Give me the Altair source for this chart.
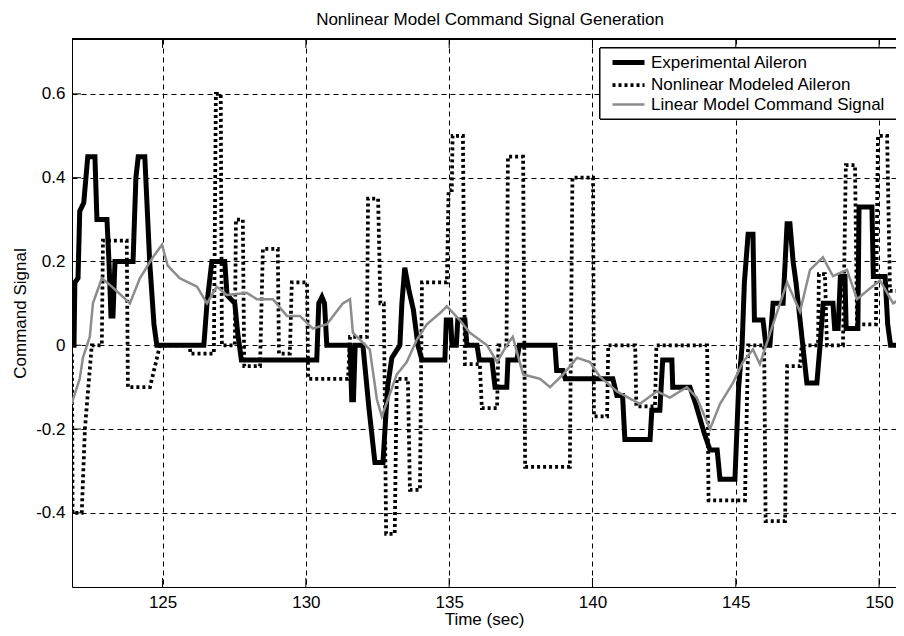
import altair as alt
import pandas as pd

# ---- data ----
exp_t = [121.84, 121.91, 121.94, 122.05, 122.11, 122.25, 122.39, 122.64, 122.71, 123.06, 123.13, 123.20,
         123.27, 123.34, 123.97, 124.07, 124.15, 124.38, 124.55, 124.70, 124.80, 126.44, 126.55, 126.72,
         127.17, 127.25, 127.52, 127.62, 127.75, 130.38, 130.45, 130.56, 130.65, 130.73, 131.54, 131.60,
         131.66, 131.72, 131.99, 132.20, 132.41, 132.69, 132.85, 133.00, 133.28, 133.35, 133.45, 133.60,
         133.75, 133.91, 134.05, 134.85, 134.90, 135.05, 135.10, 135.25, 135.30, 135.55, 135.62, 135.97,
         136.05, 136.49, 136.60, 137.01, 137.05, 137.36, 137.45, 138.69, 138.75, 138.97, 139.05, 140.71,
         140.85, 141.05, 141.13, 142.01, 142.07, 142.35, 142.45, 142.77, 142.80, 143.40, 143.60, 143.90,
         144.10, 144.35, 144.45, 144.97, 145.10, 145.22, 145.30, 145.43, 145.60, 145.65, 145.95, 146.05,
         146.19, 146.30, 146.65, 146.79, 146.89, 147.00, 147.10, 147.48, 147.83, 147.94, 148.05, 148.39,
         148.45, 148.57, 148.65, 148.81, 148.85, 149.26, 149.30, 149.75, 149.80, 150.21, 150.30, 150.40,
         150.87]
exp_v = [0.0, 0.0, 0.15, 0.16, 0.32, 0.34, 0.45, 0.45, 0.30, 0.30, 0.20, 0.07,
         0.07, 0.20, 0.20, 0.40, 0.45, 0.45, 0.20, 0.05, 0.0, 0.0, 0.10, 0.20,
         0.20, 0.12, 0.10, 0.03, -0.035, -0.035, 0.10, 0.115, 0.10, 0.0, 0.0, -0.13,
         -0.13, 0.0, 0.0, -0.15, -0.28, -0.28, -0.10, -0.03, 0.0, 0.10, 0.185, 0.13,
         0.085, 0.0, -0.035, -0.035, 0.06, 0.06, 0.0, 0.0, 0.06, 0.06, 0.0, 0.0,
         -0.035, -0.035, -0.10, -0.10, -0.035, -0.035, 0.0, 0.0, -0.06, -0.06, -0.08, -0.08,
         -0.12, -0.12, -0.225, -0.225, -0.155, -0.155, -0.035, -0.035, -0.10, -0.10, -0.14, -0.21,
         -0.25, -0.25, -0.32, -0.32, -0.10, 0.0, 0.15, 0.265, 0.265, 0.06, 0.06, 0.0,
         0.0, 0.10, 0.10, 0.29, 0.29, 0.20, 0.15, -0.09, -0.09, 0.0, 0.10, 0.10,
         0.04, 0.04, 0.164, 0.164, 0.04, 0.04, 0.33, 0.33, 0.164, 0.164, 0.05, 0.0,
         0.0]

nl_t = [121.84, 121.86, 122.18, 122.29, 122.53, 122.88, 122.92, 123.75, 123.79, 124.56, 124.91, 125.95,
        125.97, 126.79, 126.86, 127.03, 127.07, 127.52, 127.56, 127.80, 127.85, 128.40, 128.50, 129.02,
        129.06, 129.44, 129.51, 130.04, 130.08, 131.47, 131.54, 132.13, 132.17, 132.52, 132.60, 132.72,
        132.80, 133.10, 133.17, 133.56, 133.63, 133.98, 134.05, 134.92, 134.98, 135.09, 135.12, 135.48,
        135.55, 136.07, 136.14, 136.67, 136.72, 137.00, 137.05, 137.58, 137.65, 139.21, 139.30, 140.02,
        140.05, 140.51, 140.55, 141.49, 141.53, 142.18, 142.23, 144.00, 144.05, 145.32, 145.43, 145.99,
        146.04, 146.72, 146.79, 147.24, 147.30, 147.87, 147.90, 148.11, 148.18, 148.74, 148.84, 149.16,
        149.23, 149.89, 149.96, 150.28, 150.38, 150.87]
nl_v = [-0.02, -0.40, -0.40, -0.20, 0.0, 0.0, 0.25, 0.25, -0.10, -0.10, 0.0, 0.0,
        -0.02, -0.02, 0.60, 0.60, 0.0, 0.0, 0.30, 0.30, -0.05, -0.05, 0.23, 0.23,
        -0.02, -0.02, 0.15, 0.15, -0.08, -0.08, 0.02, 0.02, 0.35, 0.35, 0.10, 0.10,
        -0.45, -0.45, -0.08, -0.08, -0.345, -0.345, 0.15, 0.15, 0.37, 0.37, 0.50, 0.50,
        -0.045, -0.045, -0.15, -0.15, 0.0, 0.0, 0.45, 0.45, -0.29, -0.29, 0.40, 0.40,
        -0.17, -0.17, 0.0, 0.0, -0.146, -0.146, 0.0, 0.0, -0.37, -0.37, 0.0, 0.0,
        -0.42, -0.42, -0.05, -0.05, 0.0, 0.0, 0.17, 0.17, 0.0, 0.0, 0.43, 0.43,
        0.05, 0.05, 0.50, 0.50, 0.13, 0.13]

lin_t = [121.84, 121.87, 122.11, 122.22, 122.46, 122.57, 122.88, 123.23, 123.86, 124.21, 124.66, 124.98,
         125.18, 125.60, 126.20, 126.55, 126.89, 127.24, 127.94, 128.29, 128.85, 129.34, 129.79, 130.24,
         130.73, 131.29, 131.54, 131.64, 132.23, 132.48, 132.65, 132.86, 133.17, 133.52, 133.87, 134.22,
         134.68, 134.92, 135.37, 135.72, 136.32, 136.67, 137.01, 137.22, 137.58, 138.17, 138.52, 138.97,
         139.46, 139.91, 140.26, 140.85, 141.65, 142.25, 142.70, 143.29, 143.64, 144.10, 144.45, 144.90,
         145.25, 145.60, 145.84, 146.30, 146.79, 147.24, 147.59, 148.04, 148.39, 148.88, 149.23, 149.58,
         150.03, 150.49, 150.84]
lin_v = [-0.14, -0.13, -0.08, -0.03, 0.02, 0.10, 0.16, 0.14, 0.10, 0.16, 0.21, 0.24,
         0.19, 0.16, 0.14, 0.10, 0.14, 0.12, 0.125, 0.11, 0.11, 0.07, 0.07, 0.04,
         0.05, 0.10, 0.11, 0.03, -0.01, -0.13, -0.17, -0.13, -0.07, -0.04, 0.013, 0.05,
         0.077, 0.093, 0.06, 0.03, 0.0, -0.04, 0.0, 0.02, -0.07, -0.08, -0.10, -0.07,
         -0.03, -0.04, -0.075, -0.11, -0.14, -0.11, -0.125, -0.10, -0.125, -0.20, -0.14, -0.09,
         -0.04, -0.01, -0.045, 0.05, 0.15, 0.08, 0.18, 0.21, 0.165, 0.18, 0.11, 0.13,
         0.155, 0.10, 0.115]

series_names = ["Experimental Aileron", "Nonlinear Modeled Aileron", "Linear Model Command Signal"]
x_ticks = [125, 130, 135, 140, 145, 150]
y_ticks = [-0.4, -0.2, 0, 0.2, 0.4, 0.6]

rows = []
for name, ts, vs in zip(series_names, [exp_t, nl_t, lin_t], [exp_v, nl_v, lin_v]):
    for i, (t, v) in enumerate(zip(ts, vs)):
        rows.append({"series": name, "t": t, "v": v, "order": i})
df = pd.DataFrame(rows)

W, H = 824, 548
FONT = "Liberation Sans"
x_scale = alt.Scale(domain=[121.84, 150.59], nice=False, zero=False)
y_scale = alt.Scale(domain=[-0.577, 0.731], nice=False, zero=False)

y_label_expr = ("datum.value == 0 ? '0' : (datum.value < 0 ? '-' + format(-datum.value, '.1f') "
                ": format(datum.value, '.1f'))")

legend = alt.Legend(title=None, orient="none", legendX=542, legendY=9,
                    symbolType="M-1.6,0H1.6", symbolSize=400, labelFontSize=17,
                    labelFont=FONT, labelColor="black", strokeColor="transparent",
                    fillColor="transparent", padding=2, labelOffset=10, labelLimit=600,
                    rowPadding=-1, cornerRadius=0)

lines = alt.Chart(df).mark_line(clip=True, strokeCap="butt", strokeJoin="miter").encode(
    x=alt.X("t:Q", scale=x_scale,
            axis=alt.Axis(values=x_ticks, title="Time (sec)", grid=True, gridDash=[5, 4],
                          gridColor="black", gridOpacity=1, gridWidth=1, ticks=False,
                          labelPadding=7, titlePadding=1, domainColor="black", domainWidth=1,
                          labelFontSize=17, titleFontSize=17, titleFontWeight="normal",
                          labelFont=FONT, titleFont=FONT, labelColor="black", titleColor="black")),
    y=alt.Y("v:Q", scale=y_scale,
            axis=alt.Axis(values=y_ticks, title="Command Signal", grid=True, gridDash=[5, 4],
                          gridColor="black", gridOpacity=1, gridWidth=1, ticks=False,
                          labelPadding=7, titlePadding=6, domainColor="black", domainWidth=1,
                          labelExpr=y_label_expr,
                          labelFontSize=17, titleFontSize=17, titleFontWeight="normal",
                          labelFont=FONT, titleFont=FONT, labelColor="black", titleColor="black")),
    color=alt.Color("series:N", sort=series_names,
                    scale=alt.Scale(domain=series_names, range=["black", "black", "#8c8c8c"]),
                    legend=legend),
    strokeDash=alt.StrokeDash("series:N", sort=series_names,
                              scale=alt.Scale(domain=series_names, range=[[1, 0], [3, 3], [1, 0]]),
                              legend=legend),
    strokeWidth=alt.StrokeWidth("series:N", sort=series_names,
                                scale=alt.Scale(domain=series_names, range=[5, 2.5, 0.8]),
                                legend=legend),
    order="order:Q",
    detail="series:N",
)

xt = pd.DataFrame({"t": x_ticks})
yt = pd.DataFrame({"v": y_ticks})
bottom_ticks = alt.Chart(xt).mark_rule(color="black", strokeWidth=1).encode(
    x=alt.X("t:Q", scale=x_scale), y=alt.value(H), y2=alt.value(H - 9))
top_ticks = alt.Chart(xt).mark_rule(color="black", strokeWidth=1).encode(
    x=alt.X("t:Q", scale=x_scale), y=alt.value(0), y2=alt.value(9))
left_ticks = alt.Chart(yt).mark_rule(color="black", strokeWidth=1).encode(
    y=alt.Y("v:Q", scale=y_scale), x=alt.value(0), x2=alt.value(9))
top_line = alt.Chart(xt).mark_rule(color="black", strokeWidth=1).encode(
    x=alt.value(0), x2=alt.value(W), y=alt.value(0))
legend_box = alt.Chart(xt).mark_rect(fill="white", stroke="black", strokeWidth=1).encode(
    x=alt.value(528), x2=alt.value(W + 20), y=alt.value(9), y2=alt.value(80))

chart = alt.layer(lines, bottom_ticks, top_ticks, left_ticks, top_line, legend_box).properties(
    width=W, height=H,
    title=alt.TitleParams("Nonlinear Model Command Signal Generation", fontSize=17,
                          fontWeight="normal", font=FONT, color="black", anchor="middle",
                          dx=6, offset=10),
    autosize=alt.AutoSizeParams(type="none"),
    padding={"left": 64, "top": 31, "right": 0, "bottom": 48},
).configure_view(stroke=None).configure(background="white")

chart.save("out.html", embed_options={"renderer": "svg", "actions": False})
